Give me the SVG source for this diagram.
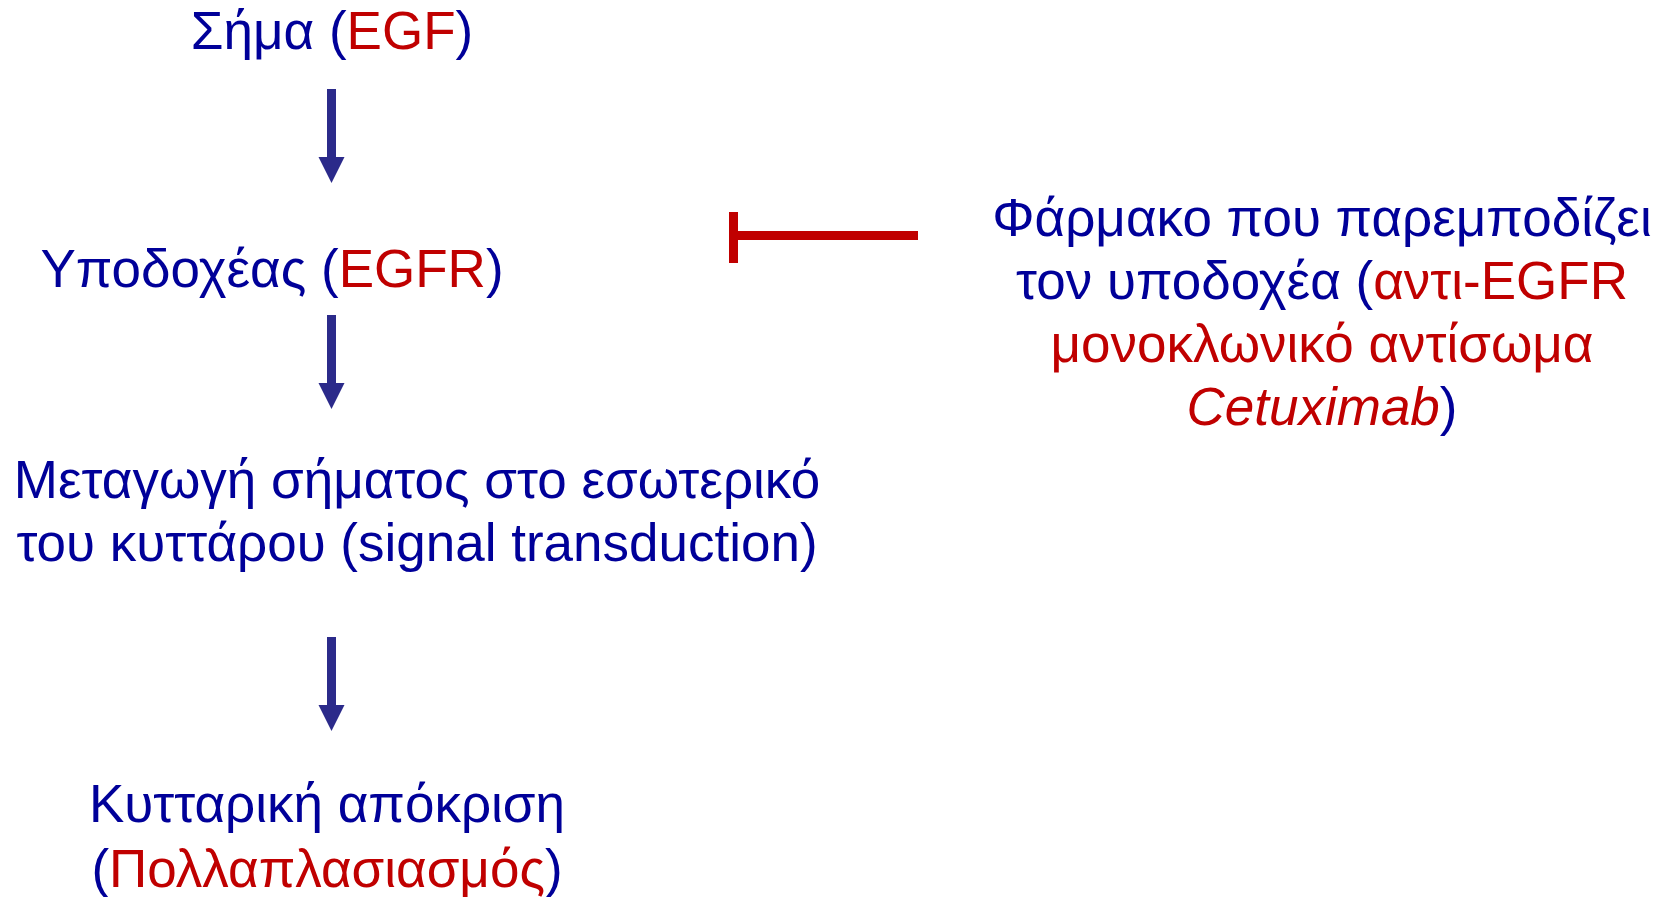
<svg xmlns="http://www.w3.org/2000/svg" width="1661" height="897" viewBox="0 0 1661 897">
  <style>
    text { font-family: "Liberation Sans", Arial, sans-serif; font-size: 53px; fill: #000099; text-anchor: middle; }
    .red { fill: #C00000; }
    .it { font-style: italic; }
    .arrow { fill: #2B2A8A; }
    .block { fill: #C00000; }
  </style>
  <defs>
    <!-- downward arrow: shaft plus triangular head, origin at shaft top centre -->
    <path id="down" d="M -4.5 0 H 4.5 V 68 H 13 L 0 94 L -13 68 H -4.5 Z"/>
  </defs>
  <rect width="1661" height="897" fill="#ffffff"/>

  <g id="signal">
    <text x="332" y="49">Σήμα (<tspan class="red">EGF</tspan>)</text>
  </g>
  <g id="receptor">
    <text x="272" y="287">Υποδοχέας (<tspan class="red">EGFR</tspan>)</text>
  </g>
  <g id="transduction">
    <text x="417" y="498">Μεταγωγή σήματος στο εσωτερικό</text>
    <text x="417" y="561">του κυττάρου (signal transduction)</text>
  </g>
  <g id="response">
    <text x="327" y="822">Κυτταρική απόκριση</text>
    <text x="327" y="887">(<tspan class="red">Πολλαπλασιασμός</tspan>)</text>
  </g>
  <g id="drug">
    <text x="1322" y="236">Φάρμακο που παρεμποδίζει</text>
    <text x="1322" y="299">τον υποδοχέα (<tspan class="red">αντι-EGFR</tspan></text>
    <text x="1322" y="362" class="red">μονοκλωνικό αντίσωμα</text>
    <text x="1322" y="425"><tspan class="red it">Cetuximab</tspan>)</text>
  </g>

  <g id="connectors">
    <use href="#down" class="arrow" x="331.5" y="89"/>
    <use href="#down" class="arrow" x="331.5" y="315"/>
    <use href="#down" class="arrow" x="331.5" y="637"/>
    <!-- inhibition bar from the drug to the receptor -->
    <rect class="block" x="729" y="212" width="9" height="51"/>
    <rect class="block" x="729" y="231" width="189" height="9"/>
  </g>
</svg>
